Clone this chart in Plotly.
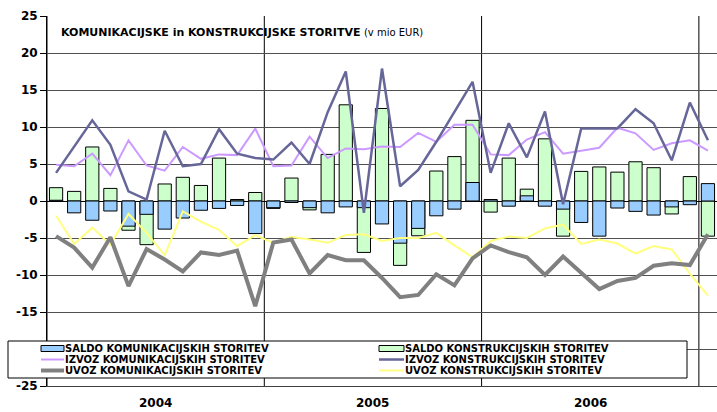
import plotly.graph_objects as go

# ---------------- data ----------------
years = ["2004", "2005", "2006"]
months = [f"{y}-{m:02d}" for y in (2004, 2005, 2006) for m in range(1, 13)] + ["2007-01"]

saldo_kom = [0.1, -1.6, -2.6, -1.35, -3.4, -1.8, -3.8, -2.3, -1.25, -1.0, -0.6, -4.4,
             -0.9, -0.2, -0.9, -1.6, -0.8, -0.9, -3.1, -5.7, -3.7, -2.0, -1.1, 2.5,
             0.2, -0.7, 0.7, -0.7, -1.1, -2.9, -4.75, -0.95, -1.4, -1.9, -0.8, -0.5,
             2.35]
saldo_konstr = [1.8, 1.3, 7.3, 1.7, -3.95, -5.9, 2.3, 3.2, 2.1, 5.8, 0.2, 1.15,
                -1.0, 3.1, -1.2, 6.3, 13.0, -6.95, 12.5, -8.7, -4.7, 4.05, 6.0, 10.9,
                -1.5, 5.8, 1.6, 8.4, -4.75, 4.0, 4.6, 3.9, 5.3, 4.5, -1.75, 3.3,
                -4.75]
izvoz_kom = [4.9, 4.7, 6.4, 3.5, 8.2, 4.8, 4.1, 7.3, 5.7, 6.3, 6.2, 9.8,
             4.7, 4.8, 8.7, 5.8, 7.1, 7.0, 7.35, 7.3, 9.2, 8.0, 10.3, 10.3,
             6.3, 6.2, 8.3, 9.3, 6.4, 6.8, 7.2, 9.9, 9.15, 6.9, 7.8, 8.2,
             6.8]
izvoz_konstr = [3.8, 7.3, 10.9, 7.6, 1.3, 0.2, 9.5, 4.7, 5.0, 9.7, 6.4, 5.8,
                5.6, 7.9, 5.0, 12.0, 17.5, -1.6, 17.9, 2.0, 4.2, 8.0, 12.0, 16.1,
                3.8, 10.5, 5.9, 12.1, -0.45, 9.8, 9.8, 9.8, 12.4, 10.5, 5.5, 13.3,
                8.2]
uvoz_kom = [-4.75, -6.3, -9.0, -4.9, -11.5, -6.5, -7.9, -9.5, -6.95, -7.3, -6.7, -14.2,
            -5.6, -5.2, -9.8, -7.3, -8.0, -8.0, -10.4, -13.0, -12.7, -9.9, -11.4, -7.75,
            -6.0, -6.9, -7.6, -10.0, -7.5, -9.7, -11.9, -10.8, -10.4, -8.75, -8.4, -8.65,
            -4.5]
uvoz_konstr = [-2.0, -5.8, -3.6, -5.9, -1.75, -4.3, -7.3, -1.4, -2.8, -3.9, -6.1, -4.6,
               -5.65, -4.85, -5.2, -5.65, -4.6, -4.5, -5.4, -5.0, -5.0, -4.3, -6.0, -7.6,
               -5.4, -4.8, -5.0, -3.7, -3.2, -5.8, -5.2, -5.75, -7.1, -6.1, -6.55, -9.8,
               -12.8]

names = ["SALDO KOMUNIKACIJSKIH STORITEV", "SALDO KONSTRUKCIJSKIH STORITEV",
         "IZVOZ KOMUNIKACIJSKIH STORITEV", "IZVOZ KONSTRUKCIJSKIH STORITEV",
         "UVOZ KOMUNIKACIJSKIH STORITEV", "UVOZ KONSTRUKCIJSKIH STORITEV"]
title_bold = "KOMUNIKACIJSKE in KONSTRUKCIJSKE STORITVE"
title_unit = "(v mio EUR)"
y_ticks = [-25, -20, -15, -10, -5, 0, 5, 10, 15, 20, 25]

# ---------------- style ----------------
C_BLUE = "#99CCFF"
C_GREEN = "#CCFFCC"
C_VIOLET = "#CC99FF"
C_NAVY = "#666699"
C_GRAY = "#808080"
C_YELLOW = "#FFFF80"
FONT = "DejaVu Sans"

W, H = 717, 412
ML, MR, MT, MB = 47, 0, 16, 26
PW, PH = W - ML - MR, H - MT - MB


def px_x(p):
    return (p - ML) / PW


def px_y(p):
    return (H - MB - p) / PH


fig = go.Figure()
fig.add_trace(go.Bar(x=months, y=saldo_konstr, name=names[1], marker=dict(color=C_GREEN, line=dict(color="black", width=1)), width=0.73))
fig.add_trace(go.Bar(x=months, y=saldo_kom, name=names[0], marker=dict(color=C_BLUE, line=dict(color="black", width=1)), width=0.73))
fig.add_trace(go.Scatter(x=months, y=uvoz_konstr, name=names[5], mode="lines", line=dict(color=C_YELLOW, width=2)))
fig.add_trace(go.Scatter(x=months, y=uvoz_kom, name=names[4], mode="lines", line=dict(color=C_GRAY, width=4)))
fig.add_trace(go.Scatter(x=months, y=izvoz_kom, name=names[2], mode="lines", line=dict(color=C_VIOLET, width=2)))
fig.add_trace(go.Scatter(x=months, y=izvoz_konstr, name=names[3], mode="lines", line=dict(color=C_NAVY, width=2.5)))

shapes = []
annotations = []

# year separators
for k in range(4):
    shapes.append(dict(type="line", xref="x", yref="paper", x0=12 * k - 0.5, x1=12 * k - 0.5,
                       y0=0, y1=1, line=dict(color="black", width=1), layer="below"))
# year labels
for k, yr in enumerate(years):
    annotations.append(dict(x=12 * k + 5.5, xref="x", y=px_y(403), yref="paper", text=f"<b>{yr}</b>",
                            showarrow=False, font=dict(family=FONT, size=12, color="black"),
                            xanchor="center", yanchor="middle"))

# title
annotations.append(dict(x=px_x(59), xref="paper", y=px_y(32), yref="paper",
                        text=f"<b>{title_bold}</b> <span style='font-size:10px'>{title_unit}</span>",
                        showarrow=False, xanchor="left", yanchor="middle",
                        font=dict(family=FONT, size=11, color="black")))

# custom legend
shapes.append(dict(type="rect", xref="paper", yref="paper", x0=px_x(8), x1=px_x(687),
                   y0=px_y(378), y1=px_y(341), fillcolor="white",
                   line=dict(color="black", width=1), layer="above"))
rows = [348.5, 359.5, 370.5]
cols = [(41, 64, 65), (379, 404, 405)]
entries = [
    (names[0], "bar", C_BLUE, 0),
    (names[1], "bar", C_GREEN, 0),
    (names[2], "line", C_VIOLET, 2),
    (names[3], "line", C_NAVY, 2.5),
    (names[4], "line", C_GRAY, 4),
    (names[5], "line", C_YELLOW, 2),
]
for i, (nm, kind, col, lw) in enumerate(entries):
    r, c = divmod(i, 2)
    sx0, sx1, tx = cols[c]
    yc = rows[r]
    if kind == "bar":
        shapes.append(dict(type="rect", xref="paper", yref="paper", x0=px_x(sx0), x1=px_x(sx1),
                           y0=px_y(yc + 3), y1=px_y(yc - 3), fillcolor=col,
                           line=dict(color="black", width=1), layer="above"))
    else:
        shapes.append(dict(type="line", xref="paper", yref="paper", x0=px_x(sx0), x1=px_x(sx1),
                           y0=px_y(yc), y1=px_y(yc), line=dict(color=col, width=lw), layer="above"))
    annotations.append(dict(x=px_x(tx), xref="paper", y=px_y(yc), yref="paper", text=f"<b>{nm}</b>",
                            showarrow=False, xanchor="left", yanchor="middle",
                            borderpad=0, borderwidth=0,
                            font=dict(family=FONT, size=10, color="black")))

fig.update_layout(
    width=W, height=H,
    margin=dict(l=ML, r=MR, t=MT, b=MB, pad=0),
    paper_bgcolor="white", plot_bgcolor="white",
    barmode="overlay", showlegend=False,
    shapes=shapes, annotations=annotations,
    xaxis=dict(type="category", categoryorder="array", categoryarray=months,
               range=[-0.5, 36.5], showticklabels=False, showgrid=False, zeroline=False,
               showline=True, linecolor="#404040", linewidth=1, ticks=""),
    yaxis=dict(range=[-25, 25], tickvals=y_ticks, ticktext=[str(v) for v in y_ticks],
               showgrid=True, gridcolor="#505050", gridwidth=1,
               zeroline=True, zerolinecolor="black", zerolinewidth=1,
               showline=True, linecolor="black", linewidth=1,
               ticks="outside", ticklen=6, tickcolor="black",
               tickfont=dict(family=FONT, size=12, color="black", weight="bold")),
)

fig.write_html("out.html", config={"displayModeBar": False},
               post_script="document.body.style.margin='0';document.body.style.overflow='hidden';")
